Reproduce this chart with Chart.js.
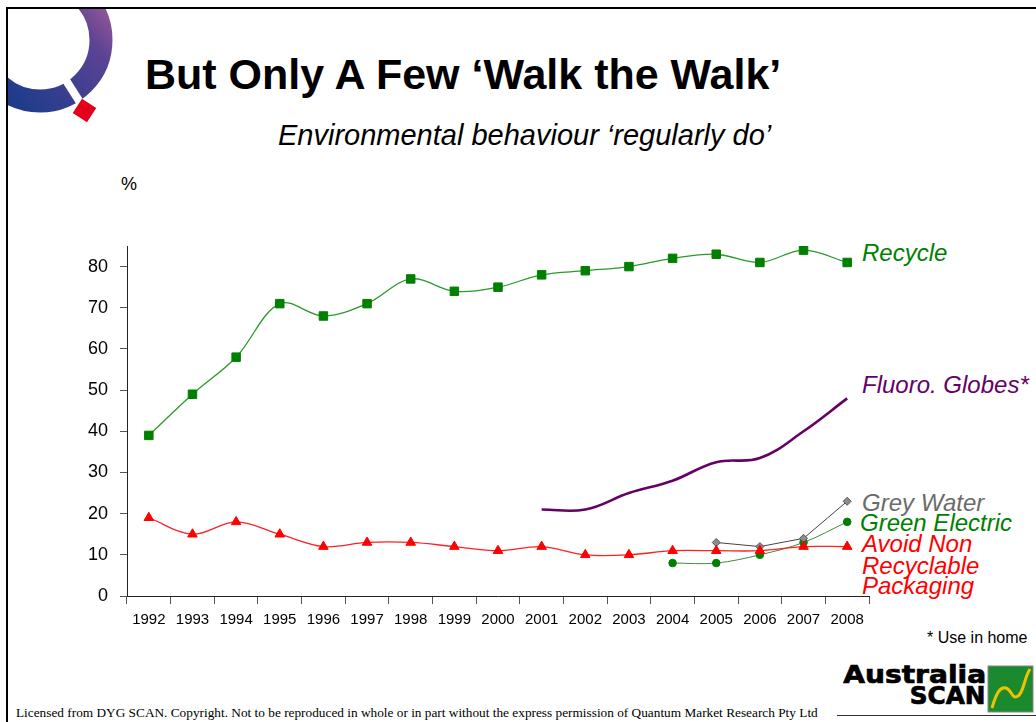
<!DOCTYPE html>
<html>
<head>
<meta charset="utf-8">
<script src="https://cdn.jsdelivr.net/npm/chart.js@4.4.1/dist/chart.umd.min.js"></script>
<style>
  html, body { margin:0; padding:0; background:#fff; }
  body { width:1036px; height:722px; position:relative; overflow:hidden; font-family:"Liberation Sans", Arial, sans-serif; }
  #c { position:absolute; left:0; top:0; }
  .t { position:absolute; white-space:nowrap; line-height:1; }
  .lab { position:absolute; white-space:nowrap; line-height:1; font-style:italic; font-size:24px; }
  .logo { position:absolute; white-space:nowrap; line-height:1; font-size:24px; font-weight:900; font-family:'DejaVu Sans','Liberation Sans',sans-serif; color:#000; -webkit-text-stroke:0.7px #000; text-align:right; transform-origin:right top; }
  #frame { position:absolute; left:6px; top:7px; right:-10px; bottom:-10px; border-left:2px solid #000; border-top:2px solid #000; }
</style>
</head>
<body>
<div id="frame"></div>
<svg style="position:absolute;left:0;top:0" width="140" height="140">
  <defs>
    <clipPath id="clp"><rect x="8" y="9" width="132" height="131"/></clipPath>
    <linearGradient id="rg" x1="0" y1="110" x2="115" y2="10" gradientUnits="userSpaceOnUse">
      <stop offset="0" stop-color="#143b8a"/>
      <stop offset="0.45" stop-color="#3e3f90"/>
      <stop offset="0.75" stop-color="#5c4394"/>
      <stop offset="1" stop-color="#9a5a96"/>
    </linearGradient>
  </defs>
  <g clip-path="url(#clp)">
    <circle cx="40" cy="40" r="61" fill="none" stroke="url(#rg)" stroke-width="23"/>
    <line x1="62" y1="74" x2="90" y2="118" stroke="#fff" stroke-width="8"/>
    <rect x="76" y="102" width="17" height="17" fill="#e2001a" transform="rotate(33 84.5 110.5)"/>
  </g>
</svg>

<div class="t" style="left:145px;top:53px;font-size:43px;font-weight:bold;color:#000;">But Only A Few ‘Walk the Walk’</div>
<div class="t" style="left:278px;top:121px;font-size:29px;font-style:italic;color:#000;">Environmental behaviour ‘regularly do’</div>
<div class="t" style="left:121px;top:175px;font-size:18px;color:#000;">%</div>

<div class="lab" style="left:862px;top:241px;color:#008000;">Recycle</div>
<div class="lab" style="left:862px;top:373px;color:#660066;">Fluoro. Globes*</div>
<div class="lab" style="left:862px;top:491px;color:#6b6b6b;">Grey Water</div>
<div class="lab" style="left:860px;top:511px;color:#008000;">Green Electric</div>
<div class="lab" style="left:862px;top:532px;color:#ff0000;">Avoid Non</div>
<div class="lab" style="left:862px;top:554px;color:#ff0000;">Recyclable</div>
<div class="lab" style="left:862px;top:574px;color:#ff0000;">Packaging</div>

<div class="t" style="left:927px;top:630px;font-size:16px;color:#000;">* Use in home</div>

<div class="logo" style="right:50px;top:663px;transform:scaleX(1.17);">Australia</div>
<div class="logo" style="right:50px;top:684px;transform:scaleX(1.03);">SCAN</div>
<svg style="position:absolute;left:986px;top:664px" width="50" height="58">
  <rect x="2" y="2" width="45" height="46" fill="#1b8a2e" stroke="#888" stroke-width="1"/>
  <path d="M6 44 C 10 30, 14 22, 20 24 S 26 36, 32 32 S 38 14, 44 5" fill="none" stroke="#f2c200" stroke-width="3"/>
</svg>
<div style="position:absolute;left:837px;top:715px;width:199px;height:1px;background:#333;"></div>

<div class="t" style="left:16px;top:706px;font-size:13.3px;font-family:'Liberation Serif','Times New Roman',serif;color:#000;">Licensed from DYG SCAN. Copyright. Not to be reproduced in whole or in part without the express permission of Quantum Market Research Pty Ltd</div>

<canvas id="c" width="1036" height="722"></canvas>

<script>
const years = ['1992','1993','1994','1995','1996','1997','1998','1999','2000','2001','2002','2003','2004','2005','2006','2007','2008'];
const recycle = [39,49,58,71,68,71,77,74,75,78,79,80,82,83,81,84,81];
const fluoroGlobes = [null,null,null,null,null,null,null,null,null,21,21,25,28,32.5,33.5,40,48];
const greyWater = [null,null,null,null,null,null,null,null,null,null,null,null,null,13,12,14,23];
const greenElectric = [null,null,null,null,null,null,null,null,null,null,null,null,8,8,10,13,18];
const avoidPackaging = [19,15,18,15,12,13,13,12,11,12,10,10,11,11,11,12,12];
const yMin = 0, yMax = 85, yStep = 10;

const FONT = "'Liberation Sans', Arial, sans-serif";

new Chart(document.getElementById('c'), {
  type: 'line',
  data: {
    labels: years,
    datasets: [
      { label:'Recycle', data: recycle, borderColor:'#2a9a2a', borderWidth:1.3, tension:0.35,
        pointStyle:'rect', pointRadius:6, pointBackgroundColor:'#008000', pointBorderColor:'#008000', pointBorderWidth:1 },
      { label:'Avoid Non Recyclable Packaging', data: avoidPackaging, borderColor:'#ff2020', borderWidth:1.3, tension:0.35,
        pointStyle:'triangle', pointRadius:5.5, pointBackgroundColor:'#ff0000', pointBorderColor:'#ff0000', pointBorderWidth:1 },
      { label:'Grey Water', data: greyWater, borderColor:'#444', borderWidth:1, tension:0,
        pointStyle:'rectRot', pointRadius:4, pointBackgroundColor:'#8c8c8c', pointBorderColor:'#555', pointBorderWidth:1 },
      { label:'Green Electric', data: greenElectric, borderColor:'#3f8a3f', borderWidth:1, tension:0.35,
        pointStyle:'circle', pointRadius:3.8, pointBackgroundColor:'#008000', pointBorderColor:'#008000', pointBorderWidth:1 },
      { label:'Fluoro. Globes*', data: fluoroGlobes, borderColor:'#660066', borderWidth:2.6, tension:0.4,
        pointRadius:0 }
    ]
  },
  options: {
    responsive:false, animation:false, spanGaps:false,
    layout: { padding: { left: 67, right: 167, top: 246, bottom: 86 } },
    plugins: { legend:{display:false}, tooltip:{enabled:false}, title:{display:false} },
    scales: {
      x: {
        type:'category', offset:true,
        grid: { offset:true, drawOnChartArea:false, drawTicks:true, tickLength:8, color:'#555', lineWidth:1 },
        border: { color:'#222', width:1 },
        ticks: { color:'#000', font:{ family:FONT, size:15 }, padding:7, maxRotation:0, autoSkip:false },
        afterFit: s => { s.height = 40; }
      },
      y: {
        min:yMin, max:yMax,
        grid: { drawOnChartArea:false, drawTicks:true, tickLength:7, color:'#555', lineWidth:1 },
        border: { color:'#222', width:1 },
        ticks: { stepSize:yStep, includeBounds:false, color:'#000', font:{ family:FONT, size:18 }, padding:12 },
        afterFit: s => { s.width = 60; }
      }
    }
  }
});
</script>
</body>
</html>
